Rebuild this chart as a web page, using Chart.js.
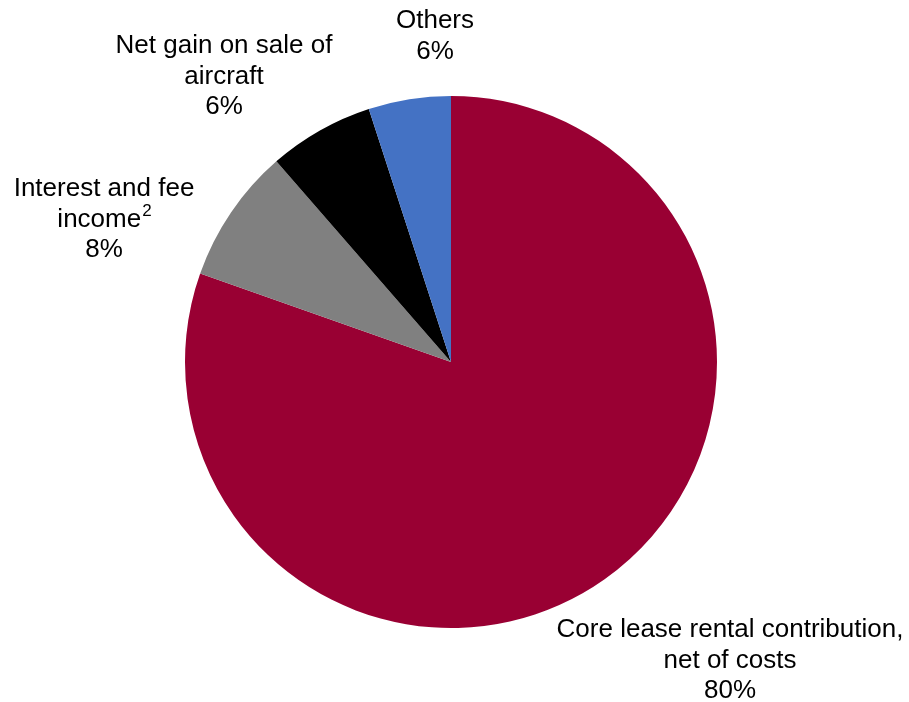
<!DOCTYPE html>
<html>
<head>
<meta charset="utf-8">
<script src="https://cdn.jsdelivr.net/npm/chart.js@4/dist/chart.umd.min.js"></script>
<style>
  html, body { margin: 0; padding: 0; background: #ffffff; }
  #wrap { width: 909px; height: 702px; position: relative; }
</style>
</head>
<body>
<div id="wrap"><canvas id="c" width="909" height="702"></canvas></div>
<script>
// ---- data ----
const categories = ["Core lease rental contribution, net of costs", "Interest and fee income", "Net gain on sale of aircraft", "Others"];
const values = [80.4, 8.2, 6.4, 5.0];
const pctLabels = ["80%", "8%", "6%", "6%"];
const labelLines = [
  ["Core lease rental contribution,", "net of costs"],
  ["Interest and fee", "income"],
  ["Net gain on sale of", "aircraft"],
  ["Others"]
];
const superscripts = ["", "2", "", ""];
const colors = ["#990033", "#808080", "#000000", "#4472C4"];

// label placement (text style/position only; y = first baseline)
const labelPos = [
  { x: 730, y: 637 },
  { x: 104, y: 196 },
  { x: 224, y: 53 },
  { x: 435, y: 28 }
];
const FONT = "Liberation Sans, Arial, sans-serif";
const FONT_SIZE = 26;
const SUP_SIZE = 17;
const LINE_H = 30.7;

const labelPlugin = {
  id: 'sliceLabels',
  afterDraw(chart) {
    const ctx = chart.ctx;
    ctx.save();
    ctx.fillStyle = "#000000";
    ctx.textBaseline = "alphabetic";
    labelPos.forEach((p, i) => {
      const lines = labelLines[i].concat([pctLabels[i]]);
      lines.forEach((line, j) => {
        const y = Math.round(p.y + j * LINE_H);
        ctx.font = FONT_SIZE + "px " + FONT;
        if (j === labelLines[i].length - 1 && superscripts[i]) {
          const w1 = ctx.measureText(line).width;
          ctx.font = SUP_SIZE + "px " + FONT;
          const w2 = ctx.measureText(superscripts[i]).width;
          const start = p.x - (w1 + w2) / 2;
          ctx.textAlign = "left";
          ctx.font = FONT_SIZE + "px " + FONT;
          ctx.fillText(line, start, y);
          ctx.font = SUP_SIZE + "px " + FONT;
          ctx.fillText(superscripts[i], start + w1 + 1, y - 11);
        } else {
          ctx.textAlign = "center";
          ctx.fillText(line, p.x, y);
        }
      });
    });
    ctx.restore();
  }
};

new Chart(document.getElementById('c'), {
  type: 'pie',
  data: {
    labels: categories,
    datasets: [{
      data: values,
      backgroundColor: colors,
      borderWidth: 0
    }]
  },
  options: {
    responsive: false,
    animation: false,
    layout: { padding: { top: 96, bottom: 74, left: 185, right: 192 } },
    plugins: {
      legend: { display: false },
      tooltip: { enabled: false }
    }
  },
  plugins: [labelPlugin]
});
</script>
</body>
</html>
